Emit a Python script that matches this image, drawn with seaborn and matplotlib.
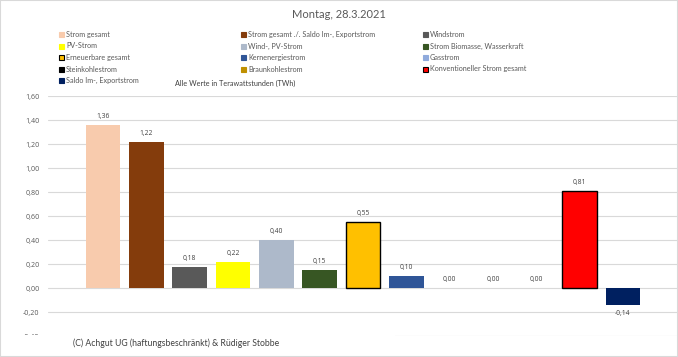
import numpy as np
import pandas as pd
import matplotlib
matplotlib.use('Agg')
import matplotlib.pyplot as plt
import seaborn as sns
from matplotlib.patches import Rectangle

# Daten (TWh)
kategorien = ['Strom gesamt', 'Strom gesamt ./. Saldo Im-, Exportstrom', 'Windstrom',
              'PV-Strom', 'Wind-, PV-Strom', 'Strom Biomasse, Wasserkraft',
              'Erneuerbare gesamt', 'Kernenergiestrom', 'Gasstrom',
              'Steinkohlestrom', 'Braunkohlestrom', 'Konventioneller Strom gesamt',
              'Saldo Im-, Exportstrom']
werte = [1.36, 1.22, 0.18, 0.22, 0.40, 0.15, 0.55, 0.10, 0.00, 0.00, 0.00, 0.81, -0.14]
farben = ['#F8CBAD', '#843C0C', '#595959', '#FFFF00', '#ADB9CA', '#375623',
          '#FFC000', '#2F5597', '#8FAADC', '#000000', '#BF9000', '#FF0000', '#002060']
mit_rand = ['Erneuerbare gesamt', 'Konventioneller Strom gesamt']
yticks = [-0.4, -0.2, 0.0, 0.2, 0.4, 0.6, 0.8, 1.0, 1.2, 1.4, 1.6]

sns.set_style('white')
plt.rcParams['font.family'] = ['Lato', 'DejaVu Sans']
zahlen_font = ['Open Sans', 'DejaVu Sans']

W, H = 678, 357
fig = plt.figure(figsize=(W / 100, H / 100), dpi=100)
ax = fig.add_axes([48 / W, (H - 336.3) / H, 1 - 48 / W, (336.3 - 96.3) / H])

df = pd.DataFrame({'kat': kategorien, 'wert': werte})
sns.barplot(data=df, x='kat', y='wert', hue='kat', order=kategorien,
            palette=dict(zip(kategorien, farben)), legend=False, width=0.8,
            saturation=1, ax=ax, zorder=3)

for patch, k in zip(ax.patches, kategorien):
    if k in mit_rand:
        patch.set_edgecolor('black')
        patch.set_linewidth(1.0)
    else:
        patch.set_linewidth(0)

for cont in ax.containers:
    ax.bar_label(cont, labels=[f'{v:.2f}'.replace('.', ',') for v in cont.datavalues],
                 padding=3.5, fontsize=4.9, color='#404040', family=zahlen_font)

ax.set_xlim(-1.27, 13.27)
ax.set_ylim(-0.4, 1.6)
ax.set_yticks(yticks)
ax.set_yticklabels([f'{t:.2f}'.replace('.', ',') for t in yticks], fontsize=5.1,
                   color='#595959', family=zahlen_font)
ax.set_xticks([])
ax.set_xlabel(None)
ax.set_ylabel(None)
ax.tick_params(axis='y', length=0, pad=6)
ax.grid(axis='y', color='#D9D9D9', linewidth=0.8, zorder=0)
ax.set_axisbelow(True)
for s in ax.spines.values():
    s.set_visible(False)

# Titel
fig.text(339 / W, 1 - 15 / H, 'Montag, 28.3.2021', ha='center', va='center',
         fontsize=8, color='#595959')

# Legende (zeilenweise, 3 Spalten)
for i, (k, c) in enumerate(zip(kategorien, farben)):
    r, col = divmod(i, 3)
    x = 59 + 182 * col
    y = 34.5 + 11.5 * r
    ec = 'black' if k in mit_rand else c
    fig.patches.append(Rectangle((x / W, 1 - (y + 2.5) / H), 5 / W, 5 / H,
                                 transform=fig.transFigure, facecolor=c, edgecolor=ec,
                                 linewidth=0.8))
    fig.text((x + 7) / W, 1 - y / H, k, ha='left', va='center', fontsize=5.2, color='#595959')

fig.text(175 / W, 1 - 83 / H, 'Alle Werte in Terawattstunden (TWh)', ha='left', va='center',
         fontsize=5.2, color='#404040')

# Quellenangabe (verdeckt unteren Bereich)
fig.patches.append(Rectangle((0, 0), 395 / W, (H - 335.4) / H, transform=fig.transFigure,
                             facecolor='white', edgecolor='none', zorder=5))
fig.text(73 / W, 1 - 343 / H, '(C) Achgut UG (haftungsbeschränkt) & Rüdiger Stobbe',
         ha='left', va='center', fontsize=6.2, color='#404040', zorder=6)

# Rahmen
fig.patches.append(Rectangle((0, 0), 1, 1, transform=fig.transFigure, facecolor='none',
                             edgecolor='#D9D9D9', linewidth=1.5, zorder=7))

plt.savefig('out.png', dpi=100)
